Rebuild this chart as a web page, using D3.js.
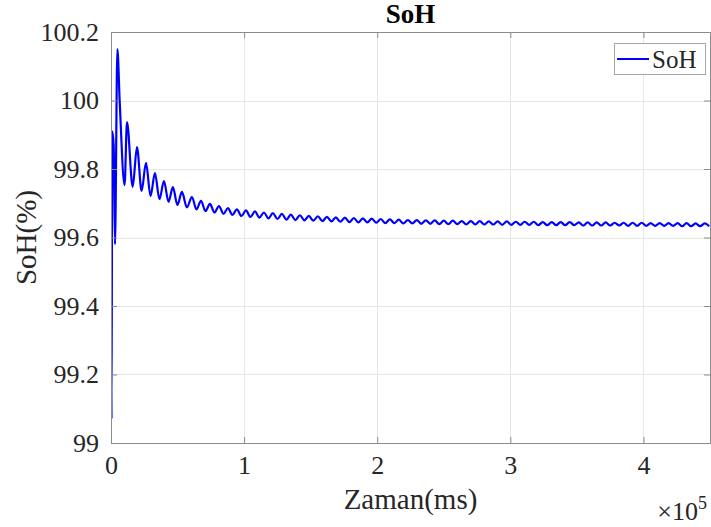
<!DOCTYPE html>
<html>
<head>
<meta charset="utf-8">
<script src="https://cdn.jsdelivr.net/npm/d3@7"></script>
<style>
  html, body { margin: 0; padding: 0; background: #fff; }
  svg { display: block; }
</style>
</head>
<body>
<svg id="chart" width="711" height="527"></svg>
<script>
// Start-up transient (ms, %)
const transientTime = [0, 400, 900, 2000, 3000, 4800, 6500];
const transientSoH  = [99.62, 99.07, 99.91, 99.87, 99.58, 100.15, 100.00];

// Oscillation crests (ms, %)
const peakTime = [12000, 19500, 26300, 33000, 39800, 46500, 53300, 60800, 67600, 74300,
  81100, 87800, 94600, 101400, 108100, 114900, 121600, 128400, 135100, 141900,
  148600, 155400, 162200, 168900, 175700, 182400, 189200, 195900, 202700, 209500,
  216200, 223000, 229700, 236500, 243200, 250000, 256800, 263500, 270300, 277000,
  283800, 290500, 297300, 304100, 310800, 317600, 324300, 331100, 337800, 344600,
  351400, 358100, 364900, 371600, 378400, 385100, 391900, 398700, 405400, 412200,
  418900, 425700, 432400, 439200, 446000];
const peakSoH = [99.937, 99.864, 99.818, 99.788, 99.765, 99.747, 99.733, 99.718, 99.707, 99.698,
  99.692, 99.686, 99.682, 99.679, 99.676, 99.673, 99.671, 99.669, 99.667, 99.665,
  99.663, 99.662, 99.660, 99.659, 99.658, 99.657, 99.656, 99.655, 99.654, 99.653,
  99.652, 99.651, 99.651, 99.650, 99.650, 99.649, 99.649, 99.648, 99.648, 99.648,
  99.647, 99.647, 99.647, 99.646, 99.646, 99.646, 99.645, 99.645, 99.645, 99.645,
  99.644, 99.644, 99.644, 99.644, 99.643, 99.643, 99.643, 99.643, 99.642, 99.642,
  99.642, 99.642, 99.642, 99.641, 99.641];

// Oscillation troughs (ms, %)
const troughTime = [10200, 16300, 23000, 29700, 36400, 43200, 49900, 57000, 64200, 71000,
  77700, 84500, 91200, 98000, 104800, 111500, 118300, 125000, 131800, 138500,
  145300, 152000, 158800, 165600, 172300, 179100, 185800, 192600, 199300, 206100,
  212900, 219600, 226400, 233100, 239900, 246600, 253400, 260200, 266900, 273700,
  280400, 287200, 293900, 300700, 307500, 314200, 321000, 327700, 334500, 341200,
  348000, 354800, 361500, 368300, 375000, 381800, 388500, 395300, 402100, 408800,
  415600, 422300, 429100, 435800, 442600, 449400];
const troughSoH = [99.753, 99.748, 99.736, 99.721, 99.712, 99.704, 99.695, 99.688, 99.682, 99.677,
  99.673, 99.669, 99.666, 99.663, 99.660, 99.658, 99.656, 99.654, 99.652, 99.651,
  99.650, 99.649, 99.648, 99.647, 99.646, 99.645, 99.644, 99.644, 99.643, 99.642,
  99.642, 99.641, 99.641, 99.640, 99.640, 99.639, 99.639, 99.639, 99.638, 99.638,
  99.638, 99.638, 99.637, 99.637, 99.637, 99.637, 99.636, 99.636, 99.636, 99.636,
  99.636, 99.635, 99.635, 99.635, 99.635, 99.635, 99.634, 99.634, 99.634, 99.634,
  99.634, 99.634, 99.633, 99.633, 99.633, 99.633];

const xTicks = [0, 100000, 200000, 300000, 400000];
const xTickLabels = ["0", "1", "2", "3", "4"];
const yTicks = [99, 99.2, 99.4, 99.6, 99.8, 100, 100.2];
const yTickLabels = ["99", "99.2", "99.4", "99.6", "99.8", "100", "100.2"];

const seriesName = "SoH";
const titleText = "SoH";
const xLabel = "Zaman(ms)";
const yLabel = "SoH(%)";

const FONT = '"Liberation Serif", "Times New Roman", serif';

// merge all points into one time-ordered series
const points = [];
transientTime.forEach((t, i) => points.push([t, transientSoH[i]]));
peakTime.forEach((t, i) => points.push([t, peakSoH[i]]));
troughTime.forEach((t, i) => points.push([t, troughSoH[i]]));
points.sort((a, b) => a[0] - b[0]);

const svg = d3.select("#chart");
const m = { left: 111, top: 32, right: 710, bottom: 443 };
const W = m.right - m.left, H = m.bottom - m.top;

const x = d3.scaleLinear().domain([0, 450000]).range([m.left, m.right]);
const y = d3.scaleLinear().domain([99, 100.2]).range([m.bottom, m.top]);

// grid
const grid = svg.append("g").attr("stroke", "#e6e6e6").attr("stroke-width", 1);
xTicks.forEach(t => grid.append("line")
  .attr("x1", Math.round(x(t)) + 0.5).attr("x2", Math.round(x(t)) + 0.5)
  .attr("y1", m.top).attr("y2", m.bottom));
yTicks.forEach(t => grid.append("line")
  .attr("x1", m.left).attr("x2", m.right)
  .attr("y1", Math.round(y(t)) + 0.5).attr("y2", Math.round(y(t)) + 0.5));

// data line
svg.append("clipPath").attr("id", "plotClip").append("rect")
  .attr("x", m.left).attr("y", m.top - 5).attr("width", W).attr("height", H + 10);

const line = d3.line().x(d => x(d[0])).y(d => y(d[1])).curve(d3.curveMonotoneX);
svg.append("path")
  .datum(points)
  .attr("clip-path", "url(#plotClip)")
  .attr("fill", "none")
  .attr("stroke", "#0000ff")
  .attr("stroke-width", 2.2)
  .attr("stroke-linejoin", "round")
  .attr("d", line);

// axes (inward ticks on all four sides)
const tl = 6;
const axB = d3.axisBottom(x).tickValues(xTicks).tickSizeInner(-tl).tickSizeOuter(0)
  .tickFormat((d, i) => xTickLabels[i]).tickPadding(13);
const axT = d3.axisTop(x).tickValues(xTicks).tickSizeInner(-tl).tickSizeOuter(0).tickFormat("");
const axL = d3.axisLeft(y).tickValues(yTicks).tickSizeInner(-tl).tickSizeOuter(0)
  .tickFormat((d, i) => yTickLabels[i]).tickPadding(12);
const axR = d3.axisRight(y).tickValues(yTicks).tickSizeInner(-tl).tickSizeOuter(0).tickFormat("");

function styleAxis(g) {
  g.select(".domain").attr("stroke", "#8c8c8c");
  g.selectAll(".tick line").attr("stroke", "#8c8c8c");
  g.selectAll(".tick text").style("font-family", FONT).style("font-size", "26px")
    .attr("fill", "#262626");
}
svg.append("g").attr("transform", `translate(0,${m.bottom})`).call(axB).call(styleAxis);
svg.append("g").attr("transform", `translate(0,${m.top})`).call(axT).call(styleAxis);
svg.append("g").attr("transform", `translate(${m.left},0)`).call(axL).call(styleAxis);
svg.append("g").attr("transform", `translate(${m.right},0)`).call(axR).call(styleAxis);

function label(sel) {
  return sel.style("font-family", FONT).attr("fill", "#262626");
}

// exponent marker
const ex = label(svg.append("text")).attr("x", 707).attr("y", 520).attr("text-anchor", "end")
  .style("font-size", "26px");
ex.append("tspan").text("\u00d710");
ex.append("tspan").attr("dy", -11).style("font-size", "18px").text("5");

// titles
label(svg.append("text")).attr("x", (m.left + m.right) / 2).attr("y", 23)
  .attr("text-anchor", "middle").style("font-weight", "bold").style("font-size", "27px")
  .attr("fill", "#000").text(titleText);
label(svg.append("text")).attr("x", (m.left + m.right) / 2).attr("y", 509)
  .attr("text-anchor", "middle").style("font-size", "29px").text(xLabel);
label(svg.append("text")).attr("transform", `translate(36,${(m.top + m.bottom) / 2}) rotate(-90)`)
  .attr("text-anchor", "middle").style("font-size", "29px").text(yLabel);

// legend
const lg = svg.append("g");
lg.append("rect").attr("x", 614.5).attr("y", 43.5).attr("width", 91).attr("height", 31)
  .attr("fill", "#fff").attr("stroke", "#a6a6a6").attr("stroke-width", 1);
lg.append("line").attr("x1", 617).attr("x2", 649).attr("y1", 59).attr("y2", 59)
  .attr("stroke", "#0000ff").attr("stroke-width", 2);
label(lg.append("text")).attr("x", 652).attr("y", 68).style("font-size", "25px").text(seriesName);
</script>
</body>
</html>
